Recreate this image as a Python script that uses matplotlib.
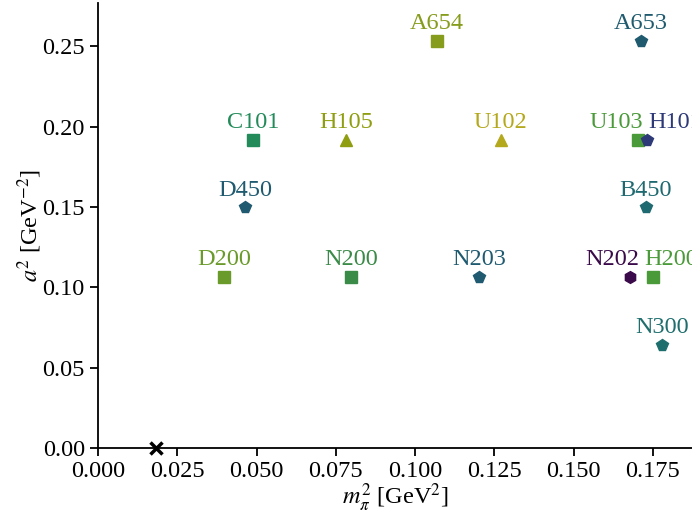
import matplotlib
matplotlib.use("Agg")
import matplotlib.pyplot as plt

plt.rcParams['font.family'] = ['Liberation Serif', 'DejaVu Serif']
plt.rcParams['mathtext.fontset'] = 'stix'
plt.rcParams['font.size'] = 17.5

# ensembles: name, m_pi^2 [GeV^2], a^2 [GeV^-2]
names = ['A654', 'A653', 'C101', 'H105', 'U102', 'U103', 'H101',
         'D450', 'B450', 'D200', 'N200', 'N203', 'N202', 'H200', 'N300']
mpi2 = [0.1069, 0.1712, 0.0489, 0.0782, 0.1270, 0.1703, 0.1731,
        0.0463, 0.1728, 0.0397, 0.0798, 0.1201, 0.1677, 0.1750, 0.1778]
a2 = [0.2535, 0.2535, 0.1915, 0.1915, 0.1915, 0.1915, 0.1915,
      0.1497, 0.1497, 0.1062, 0.1062, 0.1062, 0.1062, 0.1062, 0.0640]

# physical point
phys_mpi2 = 0.0182
phys_a2 = 0.0

markers = ['s', 'p', 's', '^', '^', 's', 'p',
           'p', 'p', 's', 's', 'p', 'h', 's', 'p']
colors = ['#869c1c', '#1f5a6e', '#238a5a', '#8f9e10', '#b4a81c', '#4a9a3a', '#2e3a78',
          '#1f5a70', '#1f6a70', '#6a9a2a', '#3a8a48', '#1f5a70', '#3a0a4a', '#4a9a3a', '#1f6e6e']

# horizontal label shifts (points) for crowded labels
label_dx = {'U103': -16, 'H101': 20, 'N202': -13, 'H200': 13}

fig = plt.figure(figsize=(6.92, 5.22), dpi=100)
ax = fig.add_axes([0.1416, 0.1418, 0.8584, 0.852])

for n, x, y, m, c in zip(names, mpi2, a2, markers, colors):
    ax.plot(x, y, marker=m, color=c, markersize=8.5, linestyle='none', clip_on=False)
    ax.annotate(n, (x, y), xytext=(label_dx.get(n, 0), 8.5), textcoords='offset points',
                ha='center', va='baseline', color=c, annotation_clip=False)

ax.plot(phys_mpi2, phys_a2, marker='x', color='black', markersize=9,
        markeredgewidth=2.5, linestyle='none', clip_on=False, zorder=5)

ax.set_xlim(0, 0.1873)
ax.set_ylim(0, 0.2767)
ax.set_xticks([0.0, 0.025, 0.05, 0.075, 0.1, 0.125, 0.15, 0.175])
ax.set_yticks([0.0, 0.05, 0.1, 0.15, 0.2, 0.25])
ax.xaxis.set_major_formatter(matplotlib.ticker.FormatStrFormatter('%.3f'))
ax.yaxis.set_major_formatter(matplotlib.ticker.FormatStrFormatter('%.2f'))

ax.spines['top'].set_visible(False)
ax.spines['right'].set_visible(False)
ax.spines['left'].set_linewidth(1.3)
ax.spines['bottom'].set_linewidth(1.3)
ax.tick_params(width=1.3, length=6)

ax.set_xlabel(r'$m_\pi^2$ [GeV$^2$]', labelpad=0)
ax.set_ylabel(r'$a^2$ [GeV$^{-2}$]', labelpad=-1)

fig.savefig('out.png', dpi=100)
